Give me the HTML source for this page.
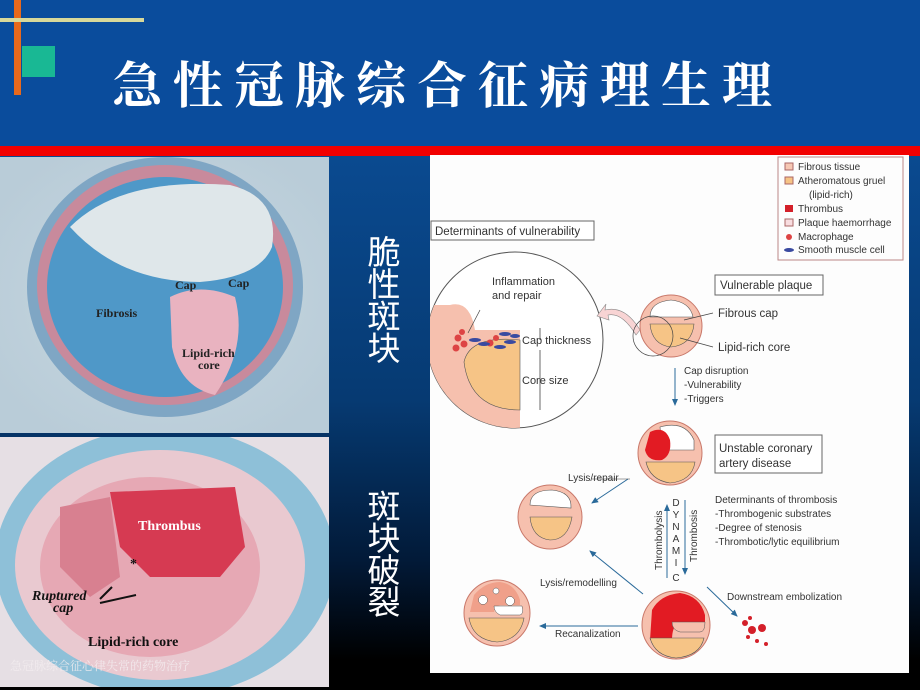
<!DOCTYPE html>
<html><head><meta charset="utf-8"><style>
html,body{margin:0;padding:0;}
body{width:920px;height:690px;position:relative;overflow:hidden;background:linear-gradient(#0b4e98 0px,#0a4a90 155px,#063a72 400px,#021a38 560px,#000 660px);font-family:"Liberation Sans","Noto Sans CJK SC",sans-serif;}
.title{position:absolute;left:0;top:0;width:920px;height:146px;background:#0a4c9c;}
.red{position:absolute;left:0;top:146px;width:920px;height:10px;background:#f20000;}
.t{position:absolute;left:112px;top:46px;color:#fff;font-family:"Noto Serif CJK SC","Liberation Serif",serif;font-weight:bold;font-size:50px;letter-spacing:11px;white-space:nowrap;}
.vt{position:absolute;color:#fff;font-family:"Noto Sans CJK SC",sans-serif;font-size:33px;line-height:32px;width:40px;text-align:center;}
</style></head><body>
<div class="title"></div>
<div style="position:absolute;left:14px;top:0;width:7px;height:95px;background:#e8691c"></div>
<div style="position:absolute;left:0;top:18px;width:144px;height:4px;background:#d8d89a"></div>
<div style="position:absolute;left:22px;top:46px;width:33px;height:31px;background:#19b894"></div>
<div class="t">急性冠脉综合征病理生理</div>
<div class="red"></div>

<svg style="position:absolute;left:0;top:157px" width="329" height="276" viewBox="0 0 329 276">
<defs><radialGradient id="g1" cx="0.5" cy="0.5" r="0.6"><stop offset="0" stop-color="#c8d8e0"/><stop offset="1" stop-color="#b9ccd8"/></radialGradient></defs>
<rect width="329" height="276" fill="url(#g1)"/>
<ellipse cx="165" cy="130" rx="138" ry="130" fill="#7fa6c4"/>
<ellipse cx="165" cy="128" rx="128" ry="120" fill="#c88a9c"/>
<ellipse cx="165" cy="130" rx="118" ry="110" fill="#4f98c8"/>
<path d="M70 70 Q120 20 230 28 Q280 40 272 90 Q260 120 200 125 Q120 125 70 70Z" fill="#dfe7ea"/>
<path d="M170 140 Q200 125 235 140 Q248 190 215 238 Q180 230 172 190Z" fill="#e9b3c0"/>
<text x="175" y="132" font-family="Liberation Serif" font-weight="bold" font-size="12" fill="#222">Cap</text>
<text x="228" y="130" font-family="Liberation Serif" font-weight="bold" font-size="12" fill="#222">Cap</text>
<text x="96" y="160" font-family="Liberation Serif" font-weight="bold" font-size="12" fill="#222">Fibrosis</text>
<text x="182" y="200" font-family="Liberation Serif" font-weight="bold" font-size="12" fill="#222">Lipid-rich</text>
<text x="198" y="212" font-family="Liberation Serif" font-weight="bold" font-size="12" fill="#222">core</text>
</svg>

<svg style="position:absolute;left:0;top:437px" width="329" height="250" viewBox="0 0 329 250">
<rect width="329" height="250" fill="#e6dfe4"/>
<ellipse cx="165" cy="125" rx="170" ry="135" fill="#8ec0d8"/>
<ellipse cx="160" cy="128" rx="145" ry="115" fill="#e9c9d0"/>
<ellipse cx="150" cy="130" rx="110" ry="90" fill="#e6a8b4"/>
<path d="M110 55 L235 50 L245 110 L220 140 L150 140 L120 110Z" fill="#d63a52"/>
<path d="M60 70 L110 60 L120 140 L90 160 L60 130Z" fill="#d88090"/>
<text x="138" y="93" font-family="Liberation Serif" font-weight="bold" font-size="14" fill="#fff">Thrombus</text>
<text x="130" y="131" font-family="Liberation Serif" font-weight="bold" font-size="14" fill="#111">*</text>
<line x1="100" y1="166" x2="136" y2="158" stroke="#111" stroke-width="2"/>
<line x1="100" y1="162" x2="112" y2="150" stroke="#111" stroke-width="2"/>
<text x="32" y="163" font-family="Liberation Serif" font-style="italic" font-weight="bold" font-size="14" fill="#111">Ruptured</text>
<text x="53" y="175" font-family="Liberation Serif" font-style="italic" font-weight="bold" font-size="14" fill="#111">cap</text>
<text x="88" y="209" font-family="Liberation Serif" font-weight="bold" font-size="14" fill="#111">Lipid-rich core</text>
<text x="10" y="233" font-family="Noto Serif CJK SC,serif" font-size="12" fill="#f4eef0" opacity="0.85">急冠脉综合征心律失常的药物治疗</text>
</svg>

<div class="vt" style="left:364px;top:234px">脆<br>性<br>斑<br>块</div>
<div class="vt" style="left:364px;top:488px">斑<br>块<br>破<br>裂</div>

<svg style="position:absolute;left:430px;top:155px" width="479" height="518" viewBox="430 155 479 518" font-family="Liberation Sans,sans-serif" fill="#333">
<defs><marker id="a" markerWidth="8" markerHeight="8" refX="6" refY="3" orient="auto"><path d="M0,0 L7,3 L0,6Z" fill="#2a6a9a"/></marker>
<clipPath id="cc"><circle cx="515" cy="340" r="88"/></clipPath></defs>
<rect x="430" y="155" width="479" height="518" fill="#fdfdfd"/>
<!-- legend -->
<rect x="778" y="157" width="125" height="103" fill="none" stroke="#b88" stroke-width="1"/>
<g font-size="10">
<rect x="785" y="163" width="8" height="7" fill="#f6c8b4" stroke="#a66"/><text x="798" y="170">Fibrous tissue</text>
<rect x="785" y="177" width="8" height="7" fill="#f6c486" stroke="#a66"/><text x="798" y="184">Atheromatous gruel</text>
<text x="809" y="198">(lipid-rich)</text>
<rect x="785" y="205" width="8" height="7" fill="#d4202a"/><text x="798" y="212">Thrombus</text>
<rect x="785" y="219" width="8" height="7" fill="#f8dde0" stroke="#a66"/><text x="798" y="226">Plaque haemorrhage</text>
<circle cx="789" cy="237" r="3" fill="#d44"/><text x="798" y="240">Macrophage</text>
<ellipse cx="789" cy="250" rx="5" ry="2" fill="#3a4aa0"/><text x="798" y="253">Smooth muscle cell</text>
</g>
<rect x="431" y="221" width="163" height="19" fill="#fff" stroke="#666"/>
<text x="435" y="235" font-size="11.5">Determinants of vulnerability</text>
<!-- big circle -->
<circle cx="515" cy="340" r="88" fill="#fff" stroke="#555"/>
<g clip-path="url(#cc)">
<path d="M430 305 L450 305 Q470 300 475 330 L520 330 L520 440 L430 440Z" fill="#f6c0ae"/>
<path d="M464 362 Q470 335 520 340 L520 410 Q470 410 464 362Z" fill="#f6c486" stroke="#555" stroke-width="0.6"/>
</g>
<g fill="#d44"><circle cx="458" cy="338" r="3.5"/><circle cx="464" cy="344" r="3.5"/><circle cx="456" cy="348" r="3.5"/><circle cx="490" cy="343" r="3.5"/><circle cx="496" cy="338" r="3"/><circle cx="462" cy="332" r="3"/></g>
<g fill="#3a4aa0"><ellipse cx="475" cy="340" rx="6" ry="2"/><ellipse cx="484" cy="344" rx="6" ry="2"/><ellipse cx="505" cy="334" rx="6" ry="2"/><ellipse cx="510" cy="342" rx="6" ry="2"/><ellipse cx="500" cy="347" rx="6" ry="2"/><ellipse cx="515" cy="336" rx="5" ry="2"/></g>
<line x1="480" y1="310" x2="468" y2="333" stroke="#444" stroke-width="0.7"/>
<text x="492" y="285" font-size="11">Inflammation</text>
<text x="492" y="299" font-size="11">and repair</text>
<text x="522" y="344" font-size="11">Cap thickness</text>
<text x="522" y="384" font-size="11">Core size</text>
<line x1="540" y1="350" x2="540" y2="410" stroke="#444" stroke-width="0.8"/>
<line x1="540" y1="328" x2="540" y2="340" stroke="#444" stroke-width="0.8"/>
<!-- curved arrow -->
<path d="M640 330 Q625 305 605 310 L606 304 L597 316 L609 320 L608 315 Q622 312 636 335Z" fill="#f8d4d4" stroke="#888" stroke-width="0.6"/>
<!-- vulnerable plaque -->
<rect x="715" y="275" width="108" height="20" fill="#fff" stroke="#666"/>
<text x="720" y="289" font-size="11.5">Vulnerable plaque</text>
<circle cx="671" cy="326" r="31" fill="#f6c0ae" stroke="#c9786a"/>
<path d="M650 317 Q650 302 671 300 Q690 302 693 317Z" fill="#fff" stroke="#555" stroke-width="0.6"/>
<path d="M650 324 L694 324 Q692 345 671 347 Q652 345 650 324Z" fill="#f6c486" stroke="#555" stroke-width="0.6"/>
<circle cx="653" cy="336" r="20" fill="none" stroke="#444" stroke-width="0.7"/>
<line x1="684" y1="320" x2="713" y2="313" stroke="#444" stroke-width="0.7"/>
<line x1="680" y1="338" x2="713" y2="347" stroke="#444" stroke-width="0.7"/>
<text x="718" y="317" font-size="11.5">Fibrous cap</text>
<text x="718" y="351" font-size="11.5">Lipid-rich core</text>
<line x1="675" y1="368" x2="675" y2="405" stroke="#2a6a9a" marker-end="url(#a)"/>
<g font-size="10"><text x="684" y="374">Cap disruption</text><text x="684" y="388">-Vulnerability</text><text x="684" y="402">-Triggers</text></g>
<!-- unstable -->
<circle cx="670" cy="453" r="32" fill="#f6c0ae" stroke="#c9786a"/>
<path d="M660 427 Q685 420 694 440 L694 450 L662 450Z" fill="#fff" stroke="#555" stroke-width="0.6"/>
<path d="M650 432 Q665 425 670 440 Q672 455 662 460 Q648 462 645 450Z" fill="#e21b23"/>
<path d="M646 462 L695 462 Q692 481 670 483 Q650 480 646 462Z" fill="#f6c486" stroke="#555" stroke-width="0.6"/>
<rect x="715" y="435" width="107" height="38" fill="#fff" stroke="#666"/>
<text x="719" y="452" font-size="11.5">Unstable coronary</text>
<text x="719" y="467" font-size="11.5">artery disease</text>
<!-- left circle -->
<circle cx="550" cy="517" r="32" fill="#f6c0ae" stroke="#c9786a"/>
<path d="M530 505 Q530 490 552 490 Q572 492 571 508 Z" fill="#fff" stroke="#555" stroke-width="0.6"/>
<path d="M530 517 L572 517 Q568 540 550 540 Q532 538 530 517Z" fill="#f6c486" stroke="#555" stroke-width="0.6"/>
<line x1="628" y1="479" x2="592" y2="503" stroke="#2a6a9a" marker-end="url(#a)"/>
<line x1="592" y1="479" x2="630" y2="479" stroke="#444" stroke-width="0.6"/>
<text x="568" y="481" font-size="10">Lysis/repair</text>
<line x1="643" y1="594" x2="590" y2="551" stroke="#2a6a9a" marker-end="url(#a)"/>
<text x="540" y="586" font-size="10">Lysis/remodelling</text>
<!-- dynamic -->
<line x1="667" y1="578" x2="667" y2="505" stroke="#2a6a9a" marker-end="url(#a)"/>
<line x1="685" y1="500" x2="685" y2="574" stroke="#2a6a9a" marker-end="url(#a)"/>
<g font-size="10" text-anchor="middle"><text x="676" y="506">D</text><text x="676" y="518">Y</text><text x="676" y="530">N</text><text x="676" y="542">A</text><text x="676" y="554">M</text><text x="676" y="566">I</text><text x="676" y="581">C</text></g>
<text transform="translate(662,570) rotate(-90)" font-size="10">Thrombolysis</text>
<text transform="translate(697,562) rotate(-90)" font-size="10">Thrombosis</text>
<g font-size="10"><text x="715" y="503">Determinants of thrombosis</text><text x="715" y="517">-Thrombogenic substrates</text><text x="715" y="531">-Degree of stenosis</text><text x="715" y="545">-Thrombotic/lytic equilibrium</text></g>
<!-- bottom middle -->
<circle cx="676" cy="625" r="34" fill="#f6c0ae" stroke="#c9786a"/>
<path d="M652 610 Q660 595 680 593 Q700 596 705 615 L705 622 L680 622 Q672 625 672 640 L650 640 Z" fill="#e21b23"/>
<path d="M672 622 L705 622 Q705 632 700 632 L680 632 Q672 630 672 622Z" fill="#f6c0ae" stroke="#555" stroke-width="0.5"/>
<path d="M650 638 L704 638 Q700 656 676 658 Q655 656 650 638Z" fill="#f6c486" stroke="#555" stroke-width="0.6"/>
<line x1="707" y1="587" x2="737" y2="616" stroke="#2a6a9a" marker-end="url(#a)"/>
<text x="727" y="600" font-size="10">Downstream embolization</text>
<g fill="#d4202a"><circle cx="745" cy="623" r="3"/><circle cx="752" cy="630" r="4"/><circle cx="762" cy="628" r="4"/><circle cx="748" cy="637" r="2"/><circle cx="757" cy="641" r="2"/><circle cx="766" cy="644" r="2"/><circle cx="750" cy="618" r="2"/></g>
<!-- recanalization -->
<line x1="638" y1="626" x2="540" y2="626" stroke="#2a6a9a" marker-end="url(#a)"/>
<text x="555" y="637" font-size="10">Recanalization</text>
<circle cx="497" cy="613" r="33" fill="#f6c0ae" stroke="#c9786a"/>
<path d="M474 595 Q485 582 500 582 Q515 584 520 600 L520 605 L500 605 Q494 607 494 612 L470 612 Z" fill="#f0a08a"/>
<circle cx="483" cy="600" r="4.5" fill="#fff" stroke="#555" stroke-width="0.5"/>
<circle cx="496" cy="591" r="3" fill="#fff" stroke="#555" stroke-width="0.5"/>
<circle cx="510" cy="601" r="4.5" fill="#fff" stroke="#555" stroke-width="0.5"/>
<path d="M494 606 L522 606 Q524 614 520 615 L500 615 Q494 612 494 606Z" fill="#fff" stroke="#555" stroke-width="0.5"/>
<path d="M469 618 L524 618 Q520 640 497 642 Q473 640 469 618Z" fill="#f6c486" stroke="#555" stroke-width="0.6"/>
</svg>
</body></html>
